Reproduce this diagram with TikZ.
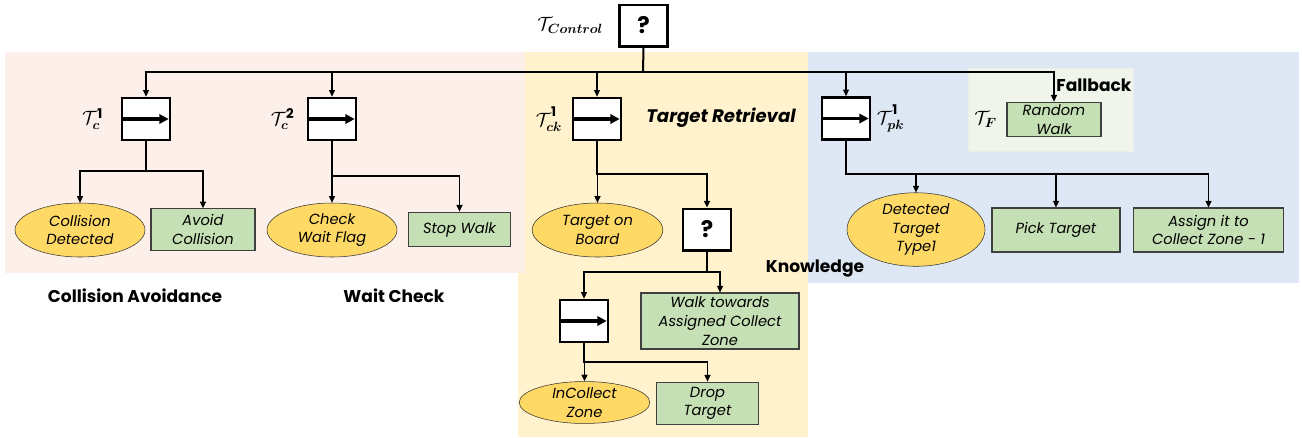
\documentclass[tikz,border=0pt]{standalone}
\usepackage{amsmath,amssymb,bm}
\usepackage{fontspec}
\setmainfont{Poppins}
\usetikzlibrary{shapes.geometric,arrows.meta,positioning}

\definecolor{pinkbg}{HTML}{FDF0EA}
\definecolor{goldbg}{HTML}{FFF2CC}
\definecolor{bluebg}{HTML}{DEE8F4}
\definecolor{fallbg}{HTML}{EFF5EA}
\definecolor{condfill}{HTML}{FFD966}
\definecolor{actfill}{HTML}{C5E0B4}

\newcommand{\supone}{\raisebox{2.5pt}{$\scriptstyle\mathbf{1}$}}

\begin{document}
\begin{tikzpicture}[
    x=0.75pt, y=-0.75pt,
    seqbox/.style={draw, line width=2pt, fill=white, minimum width=36pt, minimum height=31.5pt, inner sep=0pt,
        path picture={\draw[line width=2.4pt,-{Triangle[length=7pt,width=7pt]}] (path picture bounding box.west) -- ([xshift=-1pt]path picture bounding box.east);}},
    selbox/.style={draw, line width=2pt, fill=white, minimum width=36pt, minimum height=31pt, inner sep=0pt, font=\bfseries\LARGE},
    cond/.style={ellipse, draw=black!80, fill=condfill, inner sep=0pt, align=center, font=\itshape\fontsize{11}{14}\selectfont},
    act/.style={draw=black!75, thick, fill=actfill, inner sep=0pt, align=center, font=\itshape\fontsize{11}{14}\selectfont},
    flow/.style={line width=1pt, -{Triangle[length=5pt,width=4.5pt]}},
    bus/.style={line width=1.5pt},
    title/.style={font=\bfseries\fontsize{12.8}{14}\selectfont},
    tlabel/.style={font=\Large, inner sep=1pt}
]
\useasboundingbox (0,0) rectangle (1302,437);

% regions
\fill[goldbg] (518,52) rectangle (808,437);
\fill[pinkbg] (5,52) rectangle (525,273);
\fill[bluebg] (808,52) rectangle (1299,283);
\filldraw[fill=fallbg, draw=green!10!black!8] (968,68) rectangle (1133,151);

% root
\node[selbox] (ctrl) at (643.5,25.5) {?};
\node[tlabel, left=10pt of ctrl] (ctrllbl) {$\mathcal{T}_{\boldsymbol{Control}}$};

% sequences
\node[seqbox] (tc1) at (146,119) {};
\node[seqbox] (tc2) at (332,119) {};
\node[seqbox] (tck) at (597,119) {};
\node[seqbox] (tpk) at (846,118.5) {};
\node[tlabel, left=12pt of tc1] (tc1lbl) {$\mathcal{T}_{\boldsymbol{c}}^{\mathbf{1}}$};
\node[tlabel, left=8pt of tc2] (tc2lbl) {$\mathcal{T}_{\boldsymbol{c}}^{\mathbf{2}}$};
\node[tlabel, left=6pt of tck] (tcklbl) {$\mathcal{T}_{\boldsymbol{ck}}^{\supone}$};
\node[tlabel, right=3pt of tpk] (tpklbl) {$\mathcal{T}_{\boldsymbol{pk}}^{\supone}$};

% collision avoidance
\node[cond, minimum width=97.5pt, minimum height=40.5pt] (cd) at (80,230) {Collision\\Detected};
\node[act, minimum width=78pt, minimum height=31pt] (ac) at (203,229.5) {Avoid\\Collision};

% wait check
\node[cond, minimum width=97.5pt, minimum height=40.5pt] (cw) at (332,230) {Check\\Wait Flag};
\node[act, minimum width=77pt, minimum height=26pt] (sw) at (459.5,229.5) {Stop Walk};

% target retrieval
\node[cond, minimum width=98pt, minimum height=40.5pt] (tb) at (597.5,230) {Target on\\Board};
\node[selbox] (fb) at (707,229.5) {?};
\node[seqbox] (sq) at (584,321) {};
\node[act, minimum width=118.5pt, minimum height=42pt] (wt) at (720,321) {Walk towards\\Assigned Collect\\Zone};
\node[cond, minimum width=98pt, minimum height=31pt] (ic) at (584.5,402.5) {InCollect\\Zone};
\node[act, minimum width=77pt, minimum height=32pt] (dt) at (707.5,403.5) {Drop\\Target};

% knowledge
\node[cond, minimum width=103.5pt, minimum height=52pt] (dtt) at (916,229.5) {Detected\\Target\\Type1};
\node[act, minimum width=96pt, minimum height=33pt] (pt) at (1056,230) {Pick Target};
\node[act, minimum width=112pt, minimum height=33pt] (asg) at (1208.5,230) {Assign it to\\Collect Zone - 1};

% fallback
\node[act, minimum width=70.5pt, minimum height=26pt] (rw) at (1054,119.5) {Random\\Walk};
\node[tlabel, left=6pt of rw] (tflbl) {$\mathcal{T}_{\boldsymbol{F}}$};

% titles
\node[title] (fbtitle) at (1094,85) {Fallback};
\node[title, font=\bfseries\itshape\fontsize{13.6}{14}\selectfont] (trtitle) at (721,118) {Target Retrieval};
\node[title] (kntitle) at (815,269) {Knowledge};
\node[title] (catitle) at (135,296) {Collision Avoidance};
\node[title] (wctitle) at (394,296) {Wait Check};

% connectors
\coordinate (b0) at (643,72);
\coordinate (s1) at (146,171);
\coordinate (s2) at (332,176);
\coordinate (s3) at (597,174);
\coordinate (s4) at (707,272);
\coordinate (s5) at (584,362);
\coordinate (s6) at (846,174);

\draw[bus] (ctrl.south) -- (b0);
\draw[bus] (tc1.north |- b0) -- (tpk.north |- b0);
\draw[flow] (b0) -| (tc1.north);
\draw[flow] (b0) -| (tc2.north);
\draw[flow] (b0) -| (tck.north);
\draw[flow] (b0) -| (tpk.north);
\draw[flow] (b0) -| (rw.north);

\draw[flow] (tc1.south) -- (s1) -| (cd.north);
\draw[flow] (s1) -| (ac.north);
\draw[flow] (tc2.south) -- (s2) -| (cw.north);
\draw[flow] (s2) -| (sw.north);
\draw[flow] (tck.south) -- (s3) -| (tb.north);
\draw[flow] (s3) -| (fb.north);
\draw[flow] (fb.south) -- (s4) -| (sq.north);
\draw[flow] (s4) -| (wt.north);
\draw[flow] (sq.south) -- (s5) -| (ic.north);
\draw[flow] (s5) -| (dt.north);
\draw[flow] (tpk.south) -- (s6) -| (dtt.north);
\draw[flow] (s6) -| (pt.north);
\draw[flow] (s6) -| (asg.north);

\end{tikzpicture}
\end{document}
